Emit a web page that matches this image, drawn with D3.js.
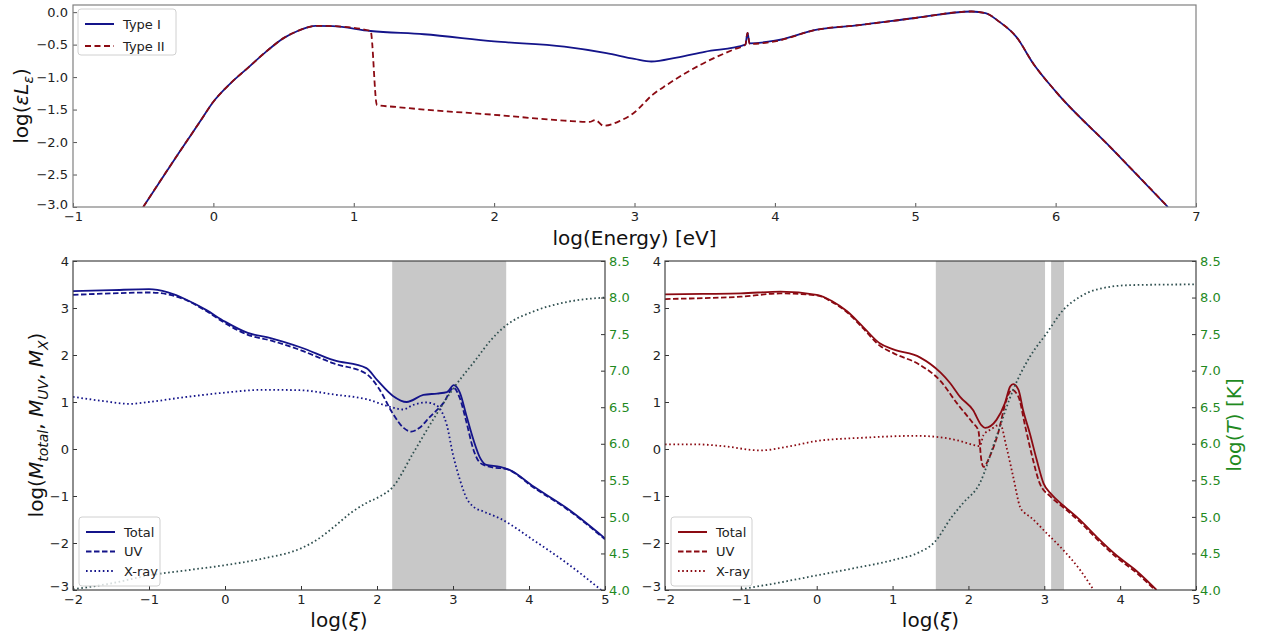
<!DOCTYPE html>
<html><head><meta charset="utf-8">
<script src="https://cdn.jsdelivr.net/npm/d3@7"></script>
<style>body{margin:0;background:#fff} text{font-family:"DejaVu Sans",sans-serif}</style>
</head><body><svg id="c" width="1261" height="640"></svg>
<script>
// ---------------- data ----------------
const energyTypeI = [-0.5,-0.25,-0.1,0,0.12,0.25,0.38,0.5,0.6,0.67,0.73,0.85,1.12,1.5,2.0,2.5,2.8,3.0,3.12,3.3,3.5,3.79,3.805,3.82,4.0,4.3,4.6,5.0,5.4,5.5,5.6,5.72,5.84,6.0,6.4,6.8];
const lumTypeI    = [-3.0,-2.18,-1.70,-1.38,-1.10,-0.85,-0.60,-0.40,-0.29,-0.235,-0.21,-0.215,-0.29,-0.34,-0.45,-0.53,-0.63,-0.72,-0.76,-0.70,-0.61,-0.50,-0.32,-0.48,-0.44,-0.27,-0.20,-0.09,0.01,-0.015,-0.15,-0.38,-0.79,-1.22,-2.10,-3.0];
const energyTypeII = [-0.5,-0.25,-0.1,0,0.12,0.25,0.38,0.5,0.6,0.67,0.73,0.85,1.12,1.165,1.3,1.5,2.0,2.5,2.68,2.72,2.78,2.9,2.99,3.13,3.23,3.47,3.7,3.79,3.805,3.82,4.0,4.3,4.6,5.0,5.4,5.5,5.6,5.72,5.84,6.0,6.4,6.8];
const lumTypeII    = [-3.0,-2.18,-1.70,-1.38,-1.10,-0.85,-0.60,-0.40,-0.29,-0.235,-0.21,-0.215,-0.29,-1.43,-1.46,-1.50,-1.58,-1.67,-1.69,-1.66,-1.75,-1.67,-1.56,-1.27,-1.12,-0.81,-0.58,-0.50,-0.32,-0.49,-0.45,-0.27,-0.20,-0.09,0.01,-0.015,-0.15,-0.38,-0.79,-1.22,-2.10,-3.0];

// Type I (left bottom panel)
const xiTotalL = [-2,-1.5,-1,-0.75,-0.5,-0.25,0,0.3,0.6,1.0,1.43,1.86,2.0,2.21,2.39,2.61,2.79,2.92,3.01,3.09,3.18,3.27,3.36,3.44,3.62,3.75,4.06,4.5,5.0];
const totalL   = [3.36,3.38,3.40,3.33,3.17,2.96,2.71,2.47,2.36,2.16,1.89,1.72,1.47,1.13,1.00,1.15,1.18,1.21,1.36,1.20,0.69,0.19,-0.20,-0.34,-0.38,-0.45,-0.80,-1.26,-1.90];
const xiUvL = [-2,-1.5,-1,-0.75,-0.5,-0.25,0,0.3,0.6,1.0,1.43,1.86,2.02,2.21,2.35,2.45,2.55,2.7,2.87,3.01,3.09,3.18,3.27,3.36,3.49,3.71,4.06,4.5,5.0];
const uvL   = [3.28,3.31,3.33,3.29,3.16,2.94,2.68,2.43,2.31,2.10,1.82,1.60,1.30,0.75,0.45,0.37,0.44,0.69,0.97,1.30,1.08,0.55,-0.02,-0.30,-0.38,-0.43,-0.82,-1.28,-1.92];
const xiXrayL = [-2,-1.6,-1.25,-1,-0.5,0,0.5,1.0,1.43,1.86,2.21,2.34,2.48,2.65,2.78,2.85,2.92,3.0,3.09,3.18,3.27,3.4,3.62,4.06,4.5,4.95];
const xrayL   = [1.11,1.02,0.96,1.0,1.11,1.20,1.26,1.25,1.16,1.06,0.88,0.84,0.94,0.99,0.93,0.80,0.50,-0.12,-0.65,-1.05,-1.23,-1.33,-1.48,-1.94,-2.43,-3.0];
const xiTempL = [-2,-1.5,-1,-0.5,0,0.5,1.0,1.2,1.43,1.65,1.86,2.04,2.2,2.48,2.75,3.0,3.3,3.5,3.7,4.06,4.5,5.0];
const tempL   = [4.01,4.09,4.2,4.27,4.34,4.43,4.57,4.68,4.86,5.05,5.19,5.28,5.40,5.88,6.35,6.75,7.15,7.42,7.62,7.81,7.94,8.0];
const shadeL = [[2.2,3.7]];

// Type II (right bottom panel)
const xiTotalR = [-2,-1.5,-1,-0.48,0,0.2,0.4,0.61,0.83,1.01,1.36,1.63,1.76,1.89,2.06,2.17,2.22,2.37,2.48,2.55,2.59,2.66,2.72,2.81,2.9,2.99,3.08,3.25,3.47,3.69,3.95,4.22,4.48];
const totalR   = [3.29,3.30,3.31,3.35,3.28,3.15,2.93,2.60,2.25,2.12,1.95,1.63,1.40,1.11,0.83,0.51,0.45,0.62,0.97,1.33,1.38,1.26,0.83,0.33,-0.23,-0.73,-0.94,-1.20,-1.51,-1.87,-2.26,-2.60,-3.0];
const xiUvR = [-2,-1.5,-1,-0.48,0,0.2,0.4,0.61,0.83,1.01,1.36,1.63,1.85,2.06,2.13,2.17,2.2,2.28,2.39,2.5,2.57,2.66,2.75,2.83,2.94,3.08,3.25,3.47,3.69,3.95,4.22,4.46];
const uvR   = [3.19,3.21,3.24,3.31,3.27,3.13,2.91,2.57,2.20,2.04,1.79,1.45,0.97,0.55,0.40,-0.23,-0.38,-0.16,0.33,1.04,1.26,1.11,0.47,-0.09,-0.73,-1.01,-1.24,-1.55,-1.91,-2.30,-2.64,-3.0];
const xiXrayR = [-2,-1.6,-1.23,-0.75,-0.35,0,0.61,1.32,1.67,1.89,2.06,2.15,2.2,2.3,2.42,2.5,2.59,2.68,2.74,2.81,3.03,3.25,3.47,3.65];
const xrayR   = [0.10,0.10,0.06,-0.03,0.06,0.17,0.24,0.28,0.24,0.17,0.09,0.06,0.30,0.42,0.52,0.05,-0.59,-1.23,-1.36,-1.44,-1.79,-2.15,-2.57,-3.0];
const xiTempR = [-1,-0.5,0,0.5,1.01,1.36,1.55,1.78,1.93,2.15,2.37,2.59,2.81,3.03,3.25,3.47,3.69,4.13,5.0];
const tempR   = [4.01,4.1,4.2,4.3,4.41,4.52,4.65,5.0,5.19,5.46,6.10,6.74,7.19,7.51,7.83,8.01,8.11,8.17,8.18];
const shadeR = [[1.57,3.01],[3.09,3.26]];

const topXTicks = [-1,0,1,2,3,4,5,6,7];
const topYTicks = [-3.0,-2.5,-2.0,-1.5,-1.0,-0.5,0.0];
const botXTicks = [-2,-1,0,1,2,3,4,5];
const botYTicks = [-3,-2,-1,0,1,2,3,4];
const tempTicks = [4.0,4.5,5.0,5.5,6.0,6.5,7.0,7.5,8.0,8.5];

// ---------------- drawing ----------------
const svg = d3.select("#c");
const NAVY = "#14148a", DRED = "#8b0a12", TEMP = "#2f4f4f", GREEN = "#1f8a1f";
const zip = (xs, ys) => xs.map((x, i) => [x, ys[i]]);
let clipId = 0;

function styleAxis(g, color, tcolor) {
  g.select(".domain").remove();
  g.selectAll(".tick line").attr("stroke", color).attr("stroke-width", 1);
  g.selectAll(".tick text").attr("fill", tcolor || "#222").style("font-size", "13px")
    .style("font-family", "DejaVu Sans, sans-serif");
}

function drawLine(g, x, y, data, color, dash, width, curve) {
  g.append("path").datum(data)
    .attr("fill", "none").attr("stroke", color).attr("stroke-width", width || 1.8)
    .attr("stroke-dasharray", dash || null).attr("stroke-linejoin", "round")
    .attr("d", d3.line().x(d => x(d[0])).y(d => y(d[1])).curve(curve || d3.curveMonotoneX));
}

function legend(g, x0, y0, w, h, items, rowH) {
  const lg = g.append("g").attr("transform", `translate(${x0},${y0})`);
  lg.append("rect").attr("width", w).attr("height", h).attr("rx", 3)
    .attr("fill", "white").attr("fill-opacity", 0.8).attr("stroke", "#d0d0d0");
  items.forEach((it, i) => {
    const yy = 15 + i * rowH;
    lg.append("line").attr("x1", 7).attr("x2", 36).attr("y1", yy).attr("y2", yy)
      .attr("stroke", it.color).attr("stroke-width", 2).attr("stroke-dasharray", it.dash || null);
    lg.append("text").attr("x", 45).attr("y", yy).attr("dy", "0.35em")
      .style("font-size", "13px").attr("fill", "#222").text(it.label);
  });
}

// ---- Top panel ----
(function () {
  const L = 73, R = 1196, T = 5, B = 207;
  const x = d3.scaleLinear().domain([-1, 7]).range([L, R]);
  const y = d3.scaleLinear().domain([-3, 0.11]).range([B, T]);
  const g = svg.append("g");
  const cid = "clip" + (clipId++);
  g.append("clipPath").attr("id", cid).append("rect").attr("x", L).attr("y", T).attr("width", R - L).attr("height", B - T);
  const pg = g.append("g").attr("clip-path", `url(#${cid})`);
  drawLine(pg, x, y, zip(energyTypeI, lumTypeI), NAVY, null, 1.8);
  drawLine(pg, x, y, zip(energyTypeII, lumTypeII), DRED, "6,3.5", 1.8);

  const ax = g.append("g").attr("transform", `translate(0,${B})`)
    .call(d3.axisBottom(x).tickValues(topXTicks).tickFormat(d3.format("d")).tickSize(-4).tickPadding(5));
  styleAxis(ax, "#555");
  const ay = g.append("g").attr("transform", `translate(${L},0)`)
    .call(d3.axisLeft(y).tickValues(topYTicks).tickFormat(d3.format(".1f")).tickSize(-4).tickPadding(5));
  styleAxis(ay, "#555");
  ay.selectAll(".tick text").filter(d => d === -3).attr("dy", "0.1em");
  g.append("rect").attr("x", L).attr("y", T).attr("width", R - L).attr("height", B - T)
    .attr("fill", "none").attr("stroke", "#808080").attr("stroke-width", 1.2);

  g.append("text").attr("x", (L + R) / 2).attr("y", 245).attr("text-anchor", "middle")
    .style("font-size", "20px").attr("fill", "#111").text("log(Energy) [eV]");
  const yl = g.append("text").attr("transform", `translate(28,${(T + B) / 2}) rotate(-90)`)
    .attr("text-anchor", "middle").style("font-size", "20px").attr("fill", "#111");
  yl.append("tspan").text("log(");
  yl.append("tspan").style("font-style", "italic").text("εL");
  yl.append("tspan").style("font-style", "italic").style("font-size", "14px").attr("dy", 5).text("ε");
  yl.append("tspan").attr("dy", -5).text(")");

  legend(g, 78, 9, 98, 46, [
    { label: "Type I", color: NAVY },
    { label: "Type II", color: DRED, dash: "6,3.5" }
  ], 22);
})();

// ---- Bottom panels ----
function bottomPanel(L, R, cfg) {
  const T = 261, B = 590;
  const x = d3.scaleLinear().domain([-2, 5]).range([L, R]);
  const y = d3.scaleLinear().domain([-3, 4]).range([B, T]);
  const yT = d3.scaleLinear().domain([4, 8.5]).range([B, T]);
  const g = svg.append("g");
  const cid = "clip" + (clipId++);
  g.append("clipPath").attr("id", cid).append("rect").attr("x", L).attr("y", T).attr("width", R - L).attr("height", B - T);
  const pg = g.append("g").attr("clip-path", `url(#${cid})`);
  cfg.shade.forEach(s => {
    pg.append("rect").attr("x", x(s[0])).attr("y", T).attr("width", x(s[1]) - x(s[0])).attr("height", B - T)
      .attr("fill", "#c8c8c8");
  });
  drawLine(pg, x, y, cfg.xray, cfg.color, "1.6,2.6", 1.8);
  drawLine(pg, x, y, cfg.uv, cfg.color, "5.5,2.5", 1.8);
  drawLine(pg, x, y, cfg.total, cfg.color, null, 1.8);
  drawLine(pg, x, yT, cfg.temp, TEMP, "1.6,2.6", 1.8);

  const ax = g.append("g").attr("transform", `translate(0,${B})`)
    .call(d3.axisBottom(x).tickValues(botXTicks).tickFormat(d3.format("d")).tickSize(-4).tickPadding(5));
  styleAxis(ax, "#333");
  const ay = g.append("g").attr("transform", `translate(${L},0)`)
    .call(d3.axisLeft(y).tickValues(botYTicks).tickFormat(d3.format("d")).tickSize(-4).tickPadding(4));
  styleAxis(ay, "#333");
  ay.selectAll(".tick text").filter(d => d === -3).attr("dy", "0.05em");
  const ar = g.append("g").attr("transform", `translate(${R},0)`)
    .call(d3.axisRight(yT).tickValues(tempTicks).tickFormat(d3.format(".1f")).tickSize(-4).tickPadding(4));
  styleAxis(ar, "#333", GREEN);
  g.append("rect").attr("x", L).attr("y", T).attr("width", R - L).attr("height", B - T)
    .attr("fill", "none").attr("stroke", "#444").attr("stroke-width", 1.2);

  const xl = g.append("text").attr("x", (L + R) / 2).attr("y", 627).attr("text-anchor", "middle")
    .style("font-size", "20px").attr("fill", "#111");
  xl.append("tspan").text("log(");
  xl.append("tspan").style("font-style", "italic").text("ξ");
  xl.append("tspan").text(")");

  legend(g, L + 6, 517, 81, 69, [
    { label: "Total", color: cfg.color },
    { label: "UV", color: cfg.color, dash: "5.5,2.5" },
    { label: "X-ray", color: cfg.color, dash: "1.6,2.6" }
  ], 19.5);
  return g;
}

bottomPanel(73, 605, {
  color: NAVY, shade: shadeL,
  total: zip(xiTotalL, totalL), uv: zip(xiUvL, uvL), xray: zip(xiXrayL, xrayL), temp: zip(xiTempL, tempL)
});
bottomPanel(665, 1196, {
  color: DRED, shade: shadeR,
  total: zip(xiTotalR, totalR), uv: zip(xiUvR, uvR), xray: zip(xiXrayR, xrayR), temp: zip(xiTempR, tempR)
});

// Left y label (bottom)
const ml = svg.append("text").attr("transform", "translate(43,425) rotate(-90)")
  .attr("text-anchor", "middle").style("font-size", "20px").attr("fill", "#111");
ml.append("tspan").text("log(");
ml.append("tspan").style("font-style", "italic").text("M");
ml.append("tspan").style("font-style", "italic").style("font-size", "14px").attr("dy", 5).text("total");
ml.append("tspan").attr("dy", -5).text(", ");
ml.append("tspan").style("font-style", "italic").text("M");
ml.append("tspan").style("font-style", "italic").style("font-size", "14px").attr("dy", 5).text("UV");
ml.append("tspan").attr("dy", -5).text(", ");
ml.append("tspan").style("font-style", "italic").text("M");
ml.append("tspan").style("font-style", "italic").style("font-size", "14px").attr("dy", 5).text("X");
ml.append("tspan").attr("dy", -5).text(")");

// Right y label
const tl = svg.append("text").attr("transform", "translate(1241,425) rotate(-90)")
  .attr("text-anchor", "middle").style("font-size", "20px").attr("fill", GREEN);
tl.append("tspan").text("log(");
tl.append("tspan").style("font-style", "italic").text("T");
tl.append("tspan").text(") [K]");
</script></body></html>
